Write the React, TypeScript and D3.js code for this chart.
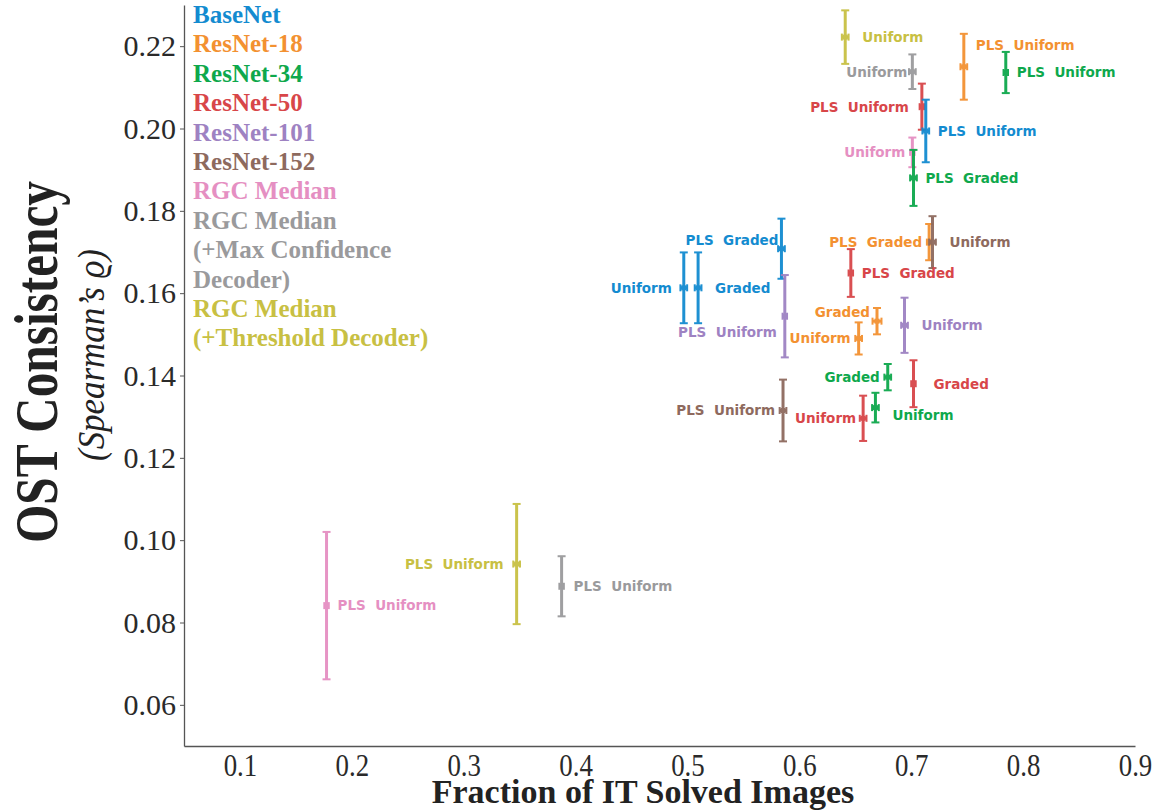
import React, { useEffect, useRef } from 'react';
import * as d3 from 'd3';

// models (legend order) and their colours
const modelNames = ['BaseNet', 'ResNet-18', 'ResNet-34', 'ResNet-50', 'ResNet-101', 'ResNet-152', 'RGC Median', 'RGC Median (+Max Confidence Decoder)', 'RGC Median (+Threshold Decoder)'];
const modelColors = ['#138bd0', '#f39131', '#0ea84c', '#d84649', '#9e82c2', '#8e6a5e', '#e58fc2', '#9a9a9c', '#c8c043'];

// legend text lines -> model index
const legendLines = ['BaseNet', 'ResNet-18', 'ResNet-34', 'ResNet-50', 'ResNet-101', 'ResNet-152', 'RGC Median', 'RGC Median', '(+Max Confidence', 'Decoder)', 'RGC Median', '(+Threshold Decoder)'];
const legendModel = [0, 1, 2, 3, 4, 5, 6, 7, 7, 7, 8, 8];

// points
const pointModel = [8, 7, 1, 2, 3, 0, 6, 2, 0, 0, 0, 4, 1, 5, 3, 1, 1, 4, 2, 3, 2, 3, 5, 6, 8, 7];
const pointX = [0.641, 0.701, 0.747, 0.7845, 0.7095, 0.713, 0.701, 0.702, 0.584, 0.4967, 0.5095, 0.587, 0.716, 0.719, 0.646, 0.6694, 0.653, 0.694, 0.679, 0.702, 0.668, 0.657, 0.5854, 0.1774, 0.3473, 0.3875];
const pointY = [0.2222, 0.2138, 0.215, 0.2136, 0.2053, 0.1994, 0.1942, 0.188, 0.1708, 0.1613, 0.1613, 0.1544, 0.1724, 0.1724, 0.1649, 0.1532, 0.149, 0.1522, 0.1396, 0.138, 0.1322, 0.1296, 0.1315, 0.0841, 0.0942, 0.0888];
const pointYErr = [0.0065, 0.0042, 0.008, 0.005, 0.0056, 0.0076, 0.0036, 0.0068, 0.0073, 0.0086, 0.0086, 0.01, 0.0044, 0.0063, 0.0058, 0.0032, 0.0039, 0.0067, 0.0032, 0.0057, 0.0036, 0.0055, 0.0075, 0.0179, 0.0146, 0.0073];
const pointXErr = [0.003, 0.003, 0.003, 0.002, 0.002, 0.003, 0.002, 0.003, 0.003, 0.003, 0.003, 0.002, 0.002, 0.003, 0.002, 0.004, 0.003, 0.003, 0.003, 0.002, 0.003, 0.003, 0.003, 0.002, 0.003, 0.002];
const pointLabel = ['Uniform', 'Uniform', 'PLS  Uniform', 'PLS  Uniform', 'PLS  Uniform', 'PLS  Uniform', 'Uniform', 'PLS  Graded', 'PLS  Graded', 'Uniform', 'Graded', 'PLS  Uniform', 'PLS  Graded', 'Uniform', 'PLS  Graded', 'Graded', 'Uniform', 'Uniform', 'Graded', 'Graded', 'Uniform', 'Uniform', 'PLS  Uniform', 'PLS  Uniform', 'PLS  Uniform', 'PLS  Uniform'];

// label placement (px from the point; negative dx = label on the left)
const labelDx = [17, -5, 12, 11, -13, 12, -7, 12, -3, -12, 17, -8, -7, 17, 11, -7, -8, 17, -8, 20, 17, -7, -8, 11, -13, 12];
const labelDy = [0, 0, -22, 0, 0, 0, 0, 0, -9, 0, 0, 16, 0, 0, 0, -9, 0, 0, 0, 0, 8, 0, 0, 0, 0, 0];

const xTicks = [0.1, 0.2, 0.3, 0.4, 0.5, 0.6, 0.7, 0.8, 0.9];
const yTicks = [0.06, 0.08, 0.1, 0.12, 0.14, 0.16, 0.18, 0.2, 0.22];

const W = 1163, H = 811;
const serif = '"Liberation Serif", "DejaVu Serif", serif';
const sans = '"DejaVu Sans", sans-serif';

export default function App() {
  const ref = useRef<SVGSVGElement>(null);

  useEffect(() => {
    const svg = d3.select(ref.current);
    svg.selectAll('*').remove();

    const x = d3.scaleLinear().domain([0.05, 0.9]).range([184, 1135]);
    const y = d3.scaleLinear().domain([0.05, 0.23]).range([746, 5]);

    // axes
    const yAxis = svg.append('g')
      .attr('transform', `translate(${x.range()[0]},0)`)
      .call(d3.axisLeft(y).tickValues(yTicks).tickFormat(d3.format('.2f')).tickSize(4).tickSizeOuter(0));
    yAxis.select('.domain').attr('stroke', '#555').attr('stroke-width', 1.3);
    yAxis.selectAll('.tick line').attr('stroke', '#555');
    yAxis.selectAll('.tick text')
      .attr('x', -8)
      .attr('font-family', serif)
      .attr('font-size', 30)
      .attr('fill', '#2a2a2a');

    const xAxis = svg.append('g')
      .attr('transform', `translate(0,${y.range()[0]})`)
      .call(d3.axisBottom(x).tickValues(xTicks).tickFormat(d3.format('.1f')).tickSize(0).tickSizeOuter(0));
    xAxis.select('.domain').attr('stroke', '#555').attr('stroke-width', 1.3);
    xAxis.selectAll('.tick text')
      .attr('y', 0)
      .attr('dy', 0)
      .attr('font-family', serif)
      .attr('font-size', 32)
      .attr('fill', '#2a2a2a')
      .attr('transform', 'translate(0,30) scale(0.84,1)');

    // axis titles
    svg.append('text')
      .attr('x', 643).attr('y', 803)
      .attr('text-anchor', 'middle')
      .attr('font-family', serif).attr('font-weight', 'bold')
      .attr('font-size', 34).attr('fill', '#222')
      .text('Fraction of IT Solved Images');

    svg.append('text')
      .attr('transform', 'translate(57,362) rotate(-90)')
      .attr('text-anchor', 'middle')
      .attr('font-family', serif).attr('font-weight', 'bold')
      .attr('font-size', 62).attr('fill', '#222')
      .attr('textLength', 362).attr('lengthAdjust', 'spacingAndGlyphs')
      .text('OST Consistency');

    svg.append('text')
      .attr('transform', 'translate(104,355) rotate(-90)')
      .attr('text-anchor', 'middle')
      .attr('font-family', serif).attr('font-style', 'italic')
      .attr('font-size', 38).attr('fill', '#222')
      .attr('textLength', 212).attr('lengthAdjust', 'spacingAndGlyphs')
      .text('(Spearman\u2019s \u03f1)');

    // points with error bars
    const pts = d3.range(pointX.length);
    const g = svg.append('g');
    pts.forEach(i => {
      const c = modelColors[pointModel[i]];
      const cx = x(pointX[i]), cy = y(pointY[i]);
      const y0 = y(pointY[i] - pointYErr[i]), y1 = y(pointY[i] + pointYErr[i]);
      const x0 = x(pointX[i] - pointXErr[i]), x1 = x(pointX[i] + pointXErr[i]);
      const pg = g.append('g').attr('stroke', c).attr('opacity', 0.95);
      pg.append('line').attr('x1', cx).attr('x2', cx).attr('y1', y0).attr('y2', y1).attr('stroke-width', 3);
      pg.append('line').attr('x1', cx - 4).attr('x2', cx + 4).attr('y1', y0).attr('y2', y0).attr('stroke-width', 2);
      pg.append('line').attr('x1', cx - 4).attr('x2', cx + 4).attr('y1', y1).attr('y2', y1).attr('stroke-width', 2);
      pg.append('line').attr('x1', x0).attr('x2', x1).attr('y1', cy).attr('y2', cy).attr('stroke-width', 3);
      pg.append('line').attr('x1', x0).attr('x2', x0).attr('y1', cy - 3.5).attr('y2', cy + 3.5).attr('stroke-width', 2);
      pg.append('line').attr('x1', x1).attr('x2', x1).attr('y1', cy - 3.5).attr('y2', cy + 3.5).attr('stroke-width', 2);
      pg.append('rect').attr('x', cx - 2.5).attr('y', cy - 2.5).attr('width', 5).attr('height', 5)
        .attr('fill', c).attr('stroke', 'none');
    });

    // point labels
    svg.append('g').selectAll('text').data(pts).join('text')
      .attr('x', i => x(pointX[i]) + labelDx[i])
      .attr('y', i => y(pointY[i]) + labelDy[i])
      .attr('dy', '0.36em')
      .attr('text-anchor', i => (labelDx[i] < 0 ? 'end' : 'start'))
      .attr('font-family', sans).attr('font-weight', 'bold').attr('font-size', 13.5)
      .attr('fill', i => modelColors[pointModel[i]])
      .style('white-space', 'pre')
      .text(i => pointLabel[i]);

    // legend
    svg.append('g').selectAll('text').data(legendLines).join('text')
      .attr('x', 193)
      .attr('y', (_, i) => 23 + i * 29.4)
      .attr('font-family', serif).attr('font-weight', 'bold').attr('font-size', 25)
      .attr('fill', (_, i) => modelColors[legendModel[i]])
      .text(d => d);
  }, []);

  return (
    <svg ref={ref} width={W} height={H} style={{ position: 'absolute', left: 0, top: 0, background: '#fff' }}
      aria-label={modelNames.join(', ')} />
  );
}
